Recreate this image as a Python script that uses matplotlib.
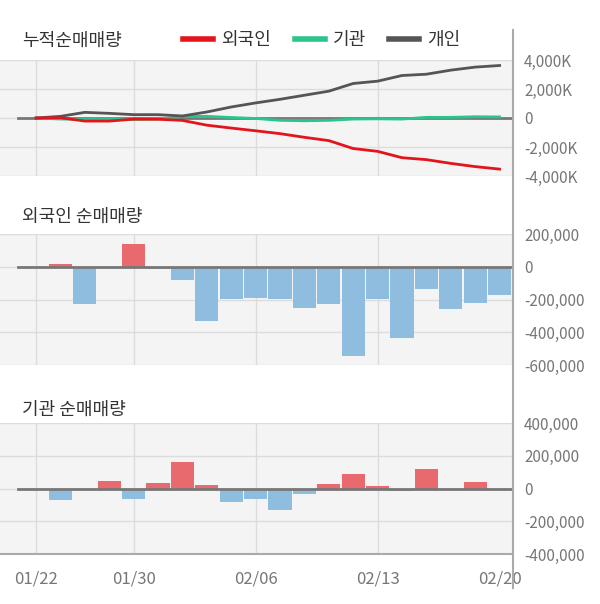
import numpy as np
import matplotlib
matplotlib.use("Agg")
import matplotlib.pyplot as plt
from matplotlib.lines import Line2D
from matplotlib.ticker import FuncFormatter

plt.rcParams["font.family"] = ["Noto Sans CJK KR", "DejaVu Sans"]

dates = ["01/22", "01/23", "01/28", "01/29", "01/30", "01/31", "02/03", "02/04",
         "02/05", "02/06", "02/07", "02/10", "02/11", "02/12", "02/13", "02/14",
         "02/17", "02/18", "02/19", "02/20"]
tick_dates = ["01/22", "01/30", "02/06", "02/13", "02/20"]

# daily net buying (shares)
foreign = [0, 16000, -228000, 0, 136000, -12000, -78000, -330000, -198000, -188000,
           -198000, -252000, -228000, -546000, -194000, -438000, -134000, -258000,
           -222000, -174000]
institution = [0, -73000, -12000, 47000, -67000, 35000, 163000, 22000, -80000, -67000,
               -129000, -31000, 29000, 90000, 16000, -18000, 120000, 0, 41000, -12000]
# cumulative individual
individual_cum = [0, 115000, 390000, 320000, 230000, 230000, 140000, 415000, 760000,
                  1040000, 1290000, 1570000, 1850000, 2380000, 2540000, 2930000,
                  3020000, 3300000, 3510000, 3620000]

RED_LINE = "#e3141b"
GREEN_LINE = "#2bc58c"
GRAY_LINE = "#555555"
BAR_POS = "#e86a6e"
BAR_NEG = "#8fbde0"
BG = "#f4f4f4"
GRID = "#dcdcdc"
TXT = "#333333"
TICK = "#777777"

W, H = 600, 604
fig = plt.figure(figsize=(W / 100, H / 100), dpi=100)


def panel(top, bottom):
    ax = fig.add_axes([0, 1 - bottom / H, 513 / W, (bottom - top) / H])
    ax.set_facecolor(BG)
    for s in ax.spines.values():
        s.set_visible(False)
    ax.yaxis.tick_right()
    ax.tick_params(axis="y", length=0, pad=8, labelsize=11, labelcolor=TICK)
    ax.tick_params(axis="x", length=0)
    ax.set_xlim(-1.48, 19.55)
    ax.grid(True, color=GRID, lw=1)
    ax.set_axisbelow(True)
    return ax


x = np.arange(len(dates))
tick_pos = [dates.index(d) for d in tick_dates]

# cumulative panel
ax1 = panel(60, 176)
ax1.axhline(0, xmin=0.035, color="#777777", lw=2, zorder=1)
ax1.plot(x, np.cumsum(institution), color=GREEN_LINE, lw=2, label="기관", zorder=2)
ax1.plot(x, individual_cum, color=GRAY_LINE, lw=2, label="개인", zorder=3)
ax1.plot(x, np.cumsum(foreign), color=RED_LINE, lw=2, label="외국인", zorder=4)
ax1.set_ylim(-4000000, 4000000)
ax1.set_yticks([-4000000, -2000000, 0, 2000000, 4000000])
ax1.yaxis.set_major_formatter(FuncFormatter(
    lambda v, p: "0" if v == 0 else f"{v / 1000:,.0f}K"))

# foreign daily
ax2 = panel(234, 365)
ax2.bar(x, foreign, width=0.95,
        color=[BAR_POS if v > 0 else BAR_NEG for v in foreign], zorder=2)
ax2.axhline(0, xmin=0.035, color="#777777", lw=2, zorder=3)
ax2.set_ylim(-600000, 200000)
ax2.set_yticks([-600000, -400000, -200000, 0, 200000])

# institution daily
ax3 = panel(423, 554)
ax3.bar(x, institution, width=0.95,
        color=[BAR_POS if v > 0 else BAR_NEG for v in institution], zorder=2)
ax3.axhline(0, xmin=0.035, color="#777777", lw=2, zorder=3)
ax3.set_ylim(-400000, 400000)
ax3.set_yticks([-400000, -200000, 0, 200000, 400000])
ax3.spines["bottom"].set_visible(True)
ax3.spines["bottom"].set_color("#aaaaaa")
ax3.spines["bottom"].set_linewidth(1.5)

fmt = FuncFormatter(lambda v, p: f"{v:,.0f}")
for ax in (ax2, ax3):
    ax.yaxis.set_major_formatter(fmt)

for ax in (ax1, ax2, ax3):
    ax.set_xticks(tick_pos[:-1])
    ax.set_xticklabels([])
ax3.set_xticks(tick_pos)
ax3.set_xticklabels(tick_dates, fontsize=12, color=TICK)
ax3.tick_params(axis="x", pad=12)
ax3.xaxis.grid(True, color=GRID, lw=1)
ax3.get_xgridlines()[-1].set_visible(False)

# right vertical axis line
fig.add_artist(Line2D([513 / W, 513 / W], [1 - 30 / H, 1 - 588 / H],
                      transform=fig.transFigure, color="#aaaaaa", lw=1.5))

# titles
fig.text(22 / W, 1 - 41 / H, "누적순매매량", fontsize=13, color=TXT, va="center")
fig.text(22 / W, 1 - 217 / H, "외국인 순매매량", fontsize=13, color=TXT, va="center")
fig.text(22 / W, 1 - 410 / H, "기관 순매매량", fontsize=13, color=TXT, va="center")

h, l = ax1.get_legend_handles_labels()
order = [2, 0, 1]
fig.legend([h[i] for i in order], [l[i] for i in order], loc="center",
           bbox_to_anchor=(322 / W, 1 - 40 / H), ncol=3, frameon=False,
           fontsize=13, handlelength=1.65, handletextpad=0.45, columnspacing=1.3,
           labelcolor=TXT)
for line in fig.legends[0].get_lines():
    line.set_linewidth(4)

fig.savefig("out.png", dpi=100)
